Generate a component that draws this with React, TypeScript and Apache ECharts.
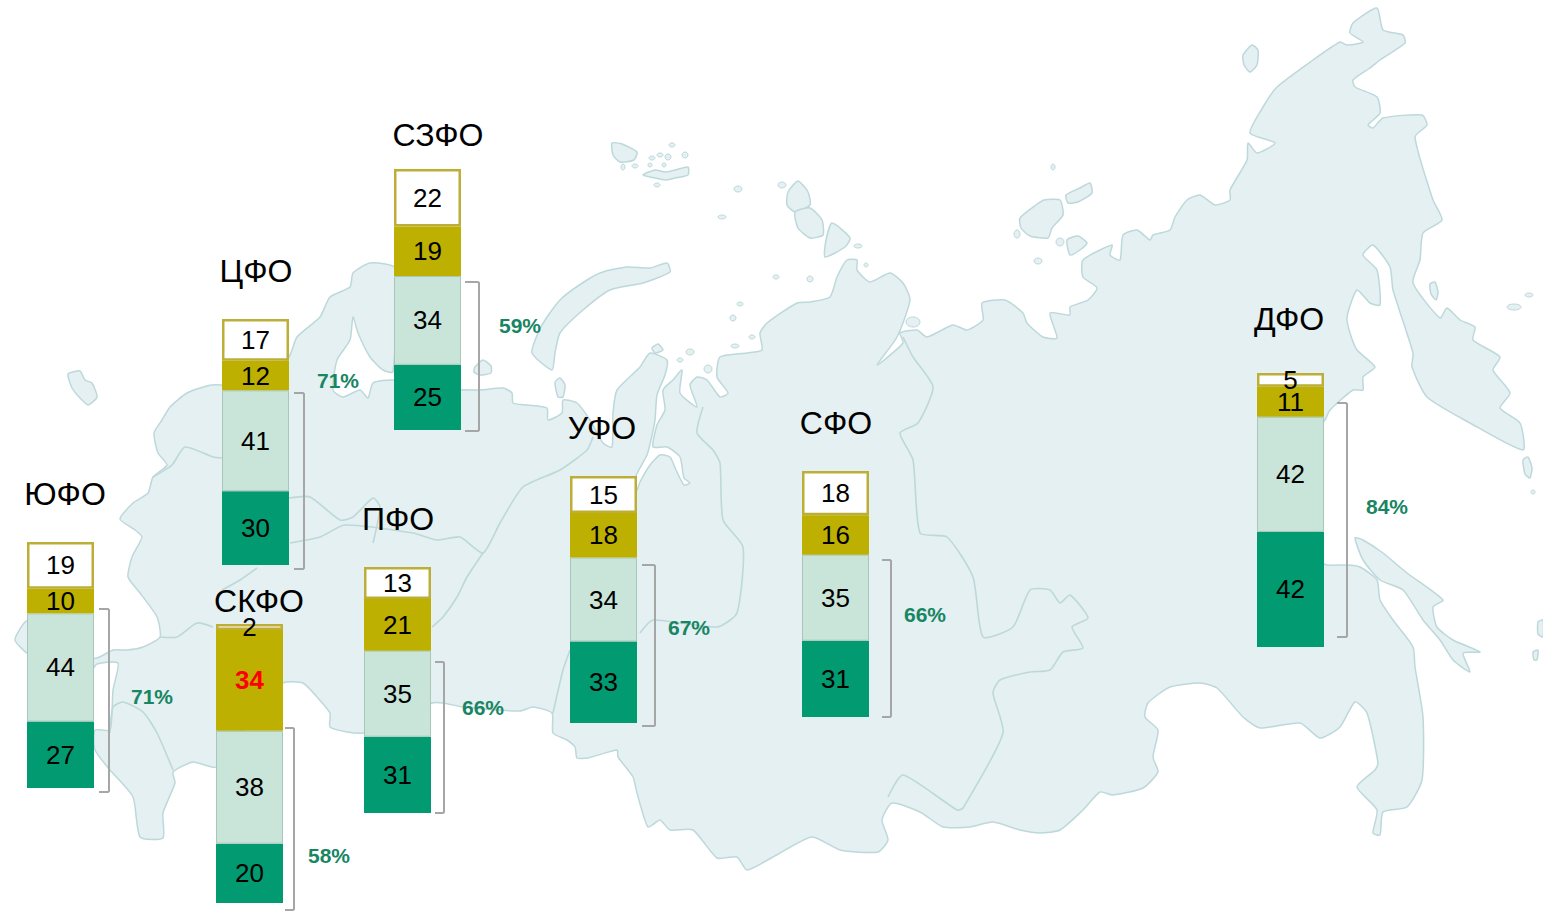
import React, { useEffect, useRef } from "react";
import * as echarts from "echarts";

const regions = ["ЮФО", "ЦФО", "СЗФО", "ПФО", "СКФО", "УФО", "СФО", "ДФО"];
const darkValues = [27, 30, 25, 31, 20, 33, 31, 42];
const lightValues = [44, 41, 34, 35, 38, 34, 35, 42];
const oliveValues = [10, 12, 19, 21, 34, 18, 16, 11];
const whiteValues = [19, 17, 22, 13, 2, 15, 18, 5];
const shareLabels = ["71%", "71%", "59%", "66%", "58%", "67%", "66%", "84%"];
const highlightedOlive = "СКФО";

// bar frame per region: left, top, height
const frames: number[][] = [
  [27, 542, 246], [222, 319, 246], [394, 169, 261], [364, 567, 246],
  [216, 624, 279], [570, 476, 247], [802, 471, 246], [1257, 373, 274],
];
const barW = 67;
// title centre per region
const titlePos: number[][] = [
  [65, 494], [256, 271], [438, 135], [398, 519], [259, 601], [602, 428], [836, 423], [1289, 319],
];
// share label centre per region
const sharePos: number[][] = [
  [152, 696], [338, 380], [520, 325], [483, 707], [329, 855], [689, 627], [925, 614], [1387, 506],
];
// bracket per region: x0, x1, y0, y1
const brackets: number[][] = [
  [99, 109, 609, 792], [294, 304, 393, 569], [465, 479, 282, 431], [435, 444, 662, 813],
  [285, 294, 728, 910], [642, 655, 565, 726], [882, 891, 560, 717], [1337, 1347, 403, 637],
];

const mainland: number[][] = [
  [212,385],[187,393],[170,407],[162,420],[154,433],[158,453],[167,465],[153,477],[148,493],[133,503],[120,519],[135,530],[142,537],[132,557],[128,577],[140,593],[157,617],[160,637],[143,647],[127,650],[113,650],[97,658],[60,660],[30,655],[15,640],[25,622],[35,620],[60,670],[90,672],[97,664],[118,663],[113,690],[110,730],[95,730],[95,750],[110,770],[133,797],[140,837],[163,838],[163,813],[175,783],[173,772],[193,762],[217,767],[250,720],[283,683],[303,683],[317,697],[330,713],[330,727],[347,732],[363,733],[400,720],[432,703],[443,703],[463,707],[520,711],[533,707],[552,713],[553,733],[567,740],[575,747],[577,758],[588,758],[617,750],[618,757],[633,777],[637,793],[648,827],[660,820],[670,830],[693,830],[717,858],[737,857],[747,870],[773,857],[812,837],[840,850],[878,852],[888,840],[882,820],[892,803],[920,812],[943,827],[970,827],[993,822],[1020,830],[1040,833],[1060,830],[1083,810],[1100,792],[1113,795],[1143,788],[1158,772],[1153,757],[1158,730],[1145,717],[1148,703],[1170,687],[1200,683],[1217,688],[1243,717],[1260,728],[1300,723],[1320,738],[1340,727],[1355,702],[1367,713],[1378,763],[1375,770],[1357,787],[1377,810],[1373,833],[1380,835],[1383,812],[1407,807],[1422,780],[1423,717],[1415,667],[1413,647],[1393,620],[1380,600],[1377,580],[1360,567],[1347,565],[1327,565],[1320,560],[1320,425],[1325,420],[1330,410],[1353,390],[1363,390],[1363,377],[1375,367],[1357,350],[1350,333],[1347,317],[1357,290],[1370,303],[1380,305],[1377,270],[1363,255],[1373,245],[1390,267],[1393,290],[1413,353],[1412,367],[1427,397],[1470,423],[1523,450],[1520,423],[1500,408],[1510,393],[1493,370],[1500,357],[1473,340],[1475,327],[1460,320],[1447,308],[1440,318],[1413,283],[1420,260],[1423,233],[1442,220],[1433,200],[1415,137],[1427,125],[1422,115],[1383,118],[1373,128],[1368,125],[1380,113],[1377,97],[1355,87],[1353,80],[1370,68],[1380,60],[1405,43],[1403,35],[1383,30],[1377,8],[1353,23],[1350,33],[1363,42],[1347,45],[1340,42],[1313,60],[1277,87],[1263,107],[1250,133],[1275,143],[1257,153],[1248,143],[1247,160],[1230,190],[1230,200],[1215,205],[1200,195],[1187,200],[1175,217],[1170,230],[1153,235],[1150,240],[1137,230],[1123,235],[1120,260],[1110,255],[1112,245],[1083,260],[1083,277],[1097,288],[1088,300],[1070,307],[1070,315],[1050,313],[1057,338],[1043,337],[1027,323],[1023,313],[1005,300],[982,303],[983,320],[967,330],[953,325],[927,337],[917,330],[900,333],[903,343],[877,365],[897,337],[910,300],[903,283],[890,273],[870,282],[857,270],[857,260],[847,260],[837,277],[830,297],[810,302],[797,303],[767,323],[760,333],[762,350],[747,353],[720,357],[717,377],[728,393],[720,397],[707,380],[697,377],[690,385],[697,407],[680,393],[682,370],[673,380],[663,390],[665,410],[657,425],[653,447],[667,447],[680,457],[684,478],[690,483],[684,485],[676,470],[670,457],[660,455],[650,465],[640,482],[637,490],[636,476],[647,455],[651,440],[655,420],[657,395],[665,375],[667,360],[650,353],[640,367],[617,390],[613,413],[612,447],[603,443],[590,420],[577,403],[563,400],[562,413],[548,420],[547,408],[527,405],[513,403],[512,393],[503,388],[480,390],[430,388],[393,380],[373,383],[368,398],[360,390],[343,397],[333,390],[337,360],[350,340],[353,317],[358,333],[370,357],[383,370],[393,372],[395,268],[370,263],[353,273],[350,287],[330,297],[320,317],[297,337],[289,357],[260,385],
];
const islands: number[][][] = [
  [[68,374],[80,371],[85,380],[92,383],[97,397],[88,405],[80,398],[72,388]],
  [[475,367],[483,360],[491,366],[491,373],[480,375],[474,372]],
  [[532,353],[552,370],[555,353],[560,333],[583,310],[610,290],[643,283],[670,272],[667,263],[650,268],[627,267],[603,272],[587,280],[562,298],[547,317],[538,333]],
  [[555,382],[560,378],[565,385],[563,397],[558,397]],
  [[652,348],[658,344],[663,350],[655,353]],
  [[612,143],[622,144],[637,152],[634,160],[620,162],[613,155]],
  [[643,175],[655,170],[665,172],[675,170],[688,167],[688,175],[675,178],[665,180],[655,178]],
  [[798,181],[808,192],[810,205],[795,212],[787,205],[788,192]],
  [[795,212],[810,208],[822,220],[823,235],[810,238],[798,228]],
  [[832,223],[850,238],[845,247],[825,257],[826,240]],
  [[1020,218],[1036,205],[1044,200],[1060,200],[1063,215],[1052,228],[1048,238],[1030,236],[1021,228]],
  [[1066,195],[1080,188],[1090,183],[1092,193],[1078,202],[1068,203]],
  [[1067,240],[1078,236],[1087,243],[1080,250],[1070,255]],
  [[1243,55],[1252,45],[1258,50],[1257,65],[1250,72],[1244,65]],
  [[1355,538],[1363,540],[1383,553],[1407,573],[1443,600],[1433,607],[1437,627],[1453,640],[1480,652],[1463,653],[1470,672],[1453,660],[1440,640],[1423,620],[1403,590],[1380,580],[1363,560]],
  [[1430,284],[1435,282],[1438,292],[1436,300],[1431,294]],
  [[1523,460],[1528,457],[1532,468],[1530,478],[1525,474]],
  [[1538,622],[1543,620],[1543,637],[1538,634]],
  [[1533,652],[1538,650],[1537,660],[1534,660]],
];
const dots: number[][] = [
  [738,189,4,3],[722,217,4,2],[782,185,4,3],[858,246,4,2],[776,277,3,2],[810,279,3,3],[740,304,3,2],[733,318,3,3],[752,337,3,2],[735,346,4,2],[690,352,4,3],[680,360,3,2],[708,369,4,4],[866,265,2,2],[913,322,7,5],
  [685,155,3,3],[672,145,3,2],[657,185,3,2],[635,166,3,2],[623,167,2,3],[652,158,3,2],[660,155,3,2],[668,157,3,3],[650,165,2,2],[664,165,2,2],
  [1053,167,2,3],[1017,234,3,4],[1038,261,4,3],[1060,242,4,4],[1514,307,7,3],[1529,295,4,2],[1533,492,2,2],
];
const borders: number[][][] = [
  [[289,498],[310,497],[340,520],[353,517],[373,498],[380,507],[373,543]],
  [[290,543],[320,537],[345,525],[413,533],[437,540],[460,537],[483,553],[500,523],[523,487],[560,470],[587,450],[593,437]],
  [[483,553],[467,577],[457,597],[443,617],[432,627]],
  [[153,477],[172,465],[185,447],[213,457],[222,458]],
  [[160,637],[177,637],[197,623],[213,627]],
  [[257,568],[240,580],[222,590]],
  [[110,733],[113,707],[123,702],[143,712],[157,733],[173,770]],
  [[703,407],[697,433],[713,450],[720,463],[723,520],[743,547],[737,613],[717,627],[653,620],[640,633]],
  [[570,650],[563,670],[553,713]],
  [[903,337],[913,357],[933,387],[918,423],[900,433],[913,460],[920,533],[947,537],[973,577],[983,637],[1013,627],[1030,590],[1050,590],[1060,603],[1070,595],[1088,618],[1072,627],[1083,648],[1063,652],[1050,670],[1030,672],[1000,680],[993,693],[1003,733],[963,808],[957,810],[903,775],[888,797]],
];

const fontFamily = "'Liberation Sans', Arial, sans-serif";
const landFill = "#e4f0f1";
const landStroke = "#bdd8db";

function buildOption() {
  const grid: any[] = [];
  const xAxis: any[] = [];
  const yAxis: any[] = [];
  const series: any[] = [];
  const layers = [
    { name: "dark", values: darkValues, color: "#029a70", border: "#029a70", bw: 0 },
    { name: "light", values: lightValues, color: "#c9e4d8", border: "#a8c6ba", bw: 1 },
    { name: "olive", values: oliveValues, color: "#bdb000", border: "#bdb000", bw: 0 },
    { name: "white", values: whiteValues, color: "#ffffff", border: "#bdae37", bw: 2.5 },
  ];
  regions.forEach((region, i) => {
    const [left, top, height] = frames[i];
    grid.push({ left, top, width: barW, height, containLabel: false });
    xAxis.push({ type: "category", gridIndex: i, data: [region], show: false });
    const total = darkValues[i] + lightValues[i] + oliveValues[i] + whiteValues[i];
    yAxis.push({ type: "value", gridIndex: i, min: 0, max: total, show: false });
    layers.forEach((layer) => {
      const isRed = layer.name === "olive" && region === highlightedOlive;
      series.push({
        type: "bar",
        name: `${region} ${layer.name}`,
        xAxisIndex: i,
        yAxisIndex: i,
        stack: region,
        barWidth: "100%",
        z: layer.name === "white" ? 3 : 2,
        data: [layer.values[i]],
        itemStyle: { color: layer.color, borderColor: layer.border, borderWidth: layer.bw },
        label: {
          show: true,
          position: "inside",
          fontFamily,
          fontSize: 26,
          color: isRed ? "#ff0000" : "#000000",
          fontWeight: isRed ? "bold" : "normal",
        },
        silent: true,
      });
    });
  });

  const elements: any[] = [];
  const land = (points: number[][]) =>
    elements.push({ type: "polygon", z: 0, silent: true, shape: { points, smooth: 0.2 }, style: { fill: landFill, stroke: landStroke, lineWidth: 1.5 } });
  land(mainland);
  islands.forEach(land);
  dots.forEach(([cx, cy, rx, ry]) =>
    elements.push({ type: "ellipse", z: 0, silent: true, shape: { cx, cy, rx, ry }, style: { fill: landFill, stroke: landStroke, lineWidth: 1 } })
  );
  borders.forEach((points) =>
    elements.push({ type: "polyline", z: 1, silent: true, shape: { points, smooth: 0.2 }, style: { fill: "none", stroke: landStroke, lineWidth: 1.6 } })
  );
  brackets.forEach(([x0, x1, y0, y1]) =>
    elements.push({
      type: "polyline", z: 1, silent: true,
      shape: { points: [[x0, y0], [x1 - 1, y0], [x1, y0 + 1], [x1, y1 - 1], [x1 - 1, y1], [x0, y1]] },
      style: { fill: "none", stroke: "#a6a6a6", lineWidth: 2 },
    })
  );
  regions.forEach((region, i) => {
    elements.push({
      type: "text", z: 5, silent: true, x: titlePos[i][0], y: titlePos[i][1],
      style: { text: region, fontFamily, fontSize: 32, fill: "#000000", textAlign: "center", textVerticalAlign: "middle" },
    });
    elements.push({
      type: "text", z: 5, silent: true, x: sharePos[i][0], y: sharePos[i][1],
      style: { text: shareLabels[i], fontFamily, fontSize: 21, fontWeight: "bold", fill: "#188563", textAlign: "center", textVerticalAlign: "middle" },
    });
  });

  return { animation: false, backgroundColor: "#ffffff", grid, xAxis, yAxis, series, graphic: { elements } };
}

export default function App() {
  const ref = useRef<HTMLDivElement>(null);
  useEffect(() => {
    document.body.style.margin = "0";
    document.body.style.overflow = "hidden";
    const chart = echarts.init(ref.current!, undefined, { renderer: "svg" });
    chart.setOption(buildOption() as any);
    return () => chart.dispose();
  }, []);
  return <div ref={ref} style={{ width: 1543, height: 913 }} />;
}
